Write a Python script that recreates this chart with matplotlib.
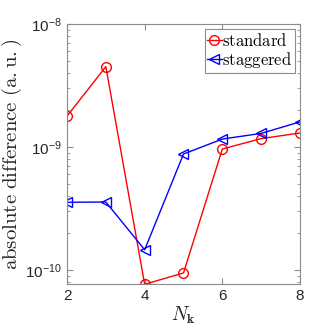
import numpy as np
import matplotlib.pyplot as plt

plt.rcParams['mathtext.fontset'] = 'cm'
plt.rcParams['font.family'] = ['Liberation Sans', 'DejaVu Sans']

# data
Nk = [2, 3, 4, 5, 6, 7, 8]
standard = [1.78e-9, 4.5e-9, 7.65e-11, 9.46e-11, 9.63e-10, 1.17e-9, 1.30e-9]
staggered = [3.55e-10, 3.57e-10, 1.46e-10, 8.77e-10, 1.16e-9, 1.29e-9, 1.60e-9]

fig = plt.figure(figsize=(3.32, 3.32), dpi=100)
ax = fig.add_axes([67/332, 1-284/332, (300-67)/332, (284-24)/332])

ax.plot(Nk, standard, '-o', color='red', mfc='none', ms=7, lw=1.0, mew=1.0, label=r'$\mathrm{standard}$')
ax.plot(Nk, staggered, '-<', color='blue', mfc='none', ms=7, lw=1.0, mew=1.0, label=r'$\mathrm{staggered}$')

ax.set_yscale('log')
ax.set_xlim(2, 8)
ax.set_ylim(10**-10.114, 1e-8)
ax.set_xticks([2, 4, 6, 8])
ax.set_yticks([1e-10, 1e-9, 1e-8])

gray = '#262626'
for s in ax.spines.values():
    s.set_color('#8c8c8c')
    s.set_linewidth(0.8)
ax.tick_params(which='both', direction='in', top=True, right=True, color='#8c8c8c', labelcolor=gray, labelsize=11)
ax.tick_params(which='major', length=4)
ax.tick_params(which='minor', length=2)
ax.tick_params(axis='x', which='minor', bottom=False, top=False)

ax.set_xlabel(r'$N_{\mathbf{k}}$', fontsize=14, color=gray, labelpad=1)
ax.set_ylabel(r'$\mathrm{absolute\ difference\ (a.u.)}$', fontsize=15, color=gray, labelpad=1)

leg = ax.legend(loc='upper right', fontsize=12, fancybox=False, framealpha=1,
                edgecolor='#8c8c8c', handlelength=0.85, handletextpad=0.05,
                borderpad=0.15, labelspacing=0.1, borderaxespad=0.3)
leg.get_frame().set_linewidth(0.8)

fig.savefig('out.png', dpi=100)
